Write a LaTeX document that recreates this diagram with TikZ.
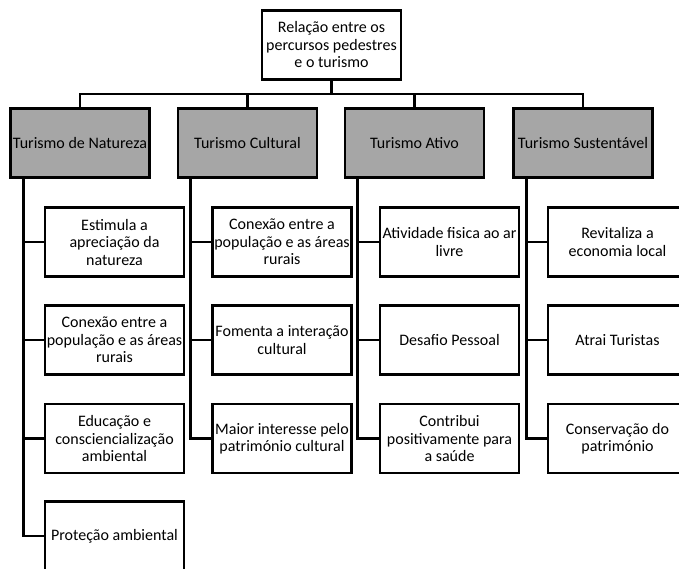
\documentclass[tikz,border=0pt]{standalone}
\usepackage{fontspec}
\setmainfont{Carlito}
\definecolor{catgray}{RGB}{166,166,166}

\begin{document}
\begin{tikzpicture}[x=1pt,y=-1pt,
    box/.style={draw=black, line width=2.6pt, fill=white, minimum width=139pt, minimum height=69pt,
                inner sep=0pt, align=center, font=\fontsize{16}{17.5}\selectfont},
    cat/.style={box, fill=catgray},
    link/.style={line width=2.6pt}]
    \useasboundingbox (0,0) rectangle (679,568);
    \node[box] (root) at (331.5,45) {Relação entre os\\percursos pedestres\\e o turismo};
    \node[cat] (nat) at (80,143) {Turismo de Natureza};
    \node[cat] (cul) at (247.5,143) {Turismo Cultural};
    \node[cat] (ati) at (414.5,143) {Turismo Ativo};
    \node[cat] (sus) at (583,143) {Turismo Sustentável};

    \node[box] (nat1) at (114.5,242) {Estimula a\\apreciação da\\natureza};
    \node[box] (nat2) at (114.5,340) {Conexão entre a\\população e as áreas\\rurais};
    \node[box] (nat3) at (114.5,438.5) {Educação e\\consciencialização\\ambiental};
    \node[box] (nat4) at (114.5,536) {Proteção ambiental};

    \node[box] (cul1) at (282,242) {Conexão entre a\\população e as áreas\\rurais};
    \node[box] (cul2) at (282,340) {Fomenta a interação\\cultural};
    \node[box] (cul3) at (282,438.5) {Maior interesse pelo\\património cultural};

    \node[box] (ati1) at (449.5,242) {Atividade fisica ao ar\\livre};
    \node[box] (ati2) at (449.5,340) {Desafio Pessoal};
    \node[box] (ati3) at (449.5,438.5) {Contribui\\positivamente para\\a saúde};

    \node[box] (sus1) at (617.5,242) {Revitaliza a\\economia local};
    \node[box] (sus2) at (617.5,340) {Atrai Turistas};
    \node[box] (sus3) at (617.5,438.5) {Conservação do\\património};

    % top level
    \coordinate (bus) at (331.5,94);
    \draw[link] (root.south) -- (bus);
    \foreach \c in {nat,cul,ati,sus}
        \draw[link] (bus) -| (\c.north);

    % branches
    \foreach \c/\n in {nat/4,cul/3,ati/3,sus/3}
        \foreach \i in {1,...,\n}
            \draw[link] ([xshift=14pt]\c.south west) |- (\c\i.west);
\end{tikzpicture}
\end{document}
